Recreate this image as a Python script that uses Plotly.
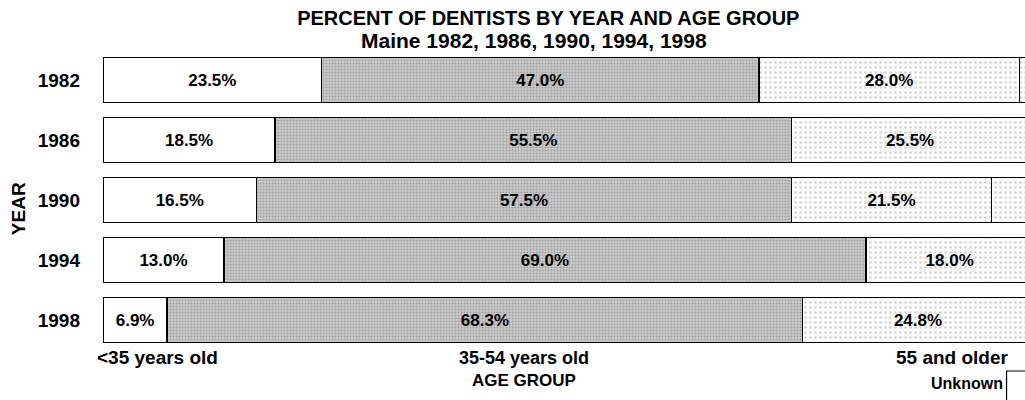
import plotly.graph_objects as go

years = ["1982", "1986", "1990", "1994", "1998"]
under35 = [23.5, 18.5, 16.5, 13.0, 6.9]
mid35_54 = [47.0, 55.5, 57.5, 69.0, 68.3]
over55 = [28.0, 25.5, 21.5, 18.0, 24.8]
unknown = [1.5, 0.5, 4.5, 0.0, 0.0]
group_labels = ["<35 years old", "35-54 years old", "55 and older"]

FONT = "Liberation Sans, Arial, sans-serif"

def f(size):
    return dict(size=size, family=FONT, color="black", weight=700)

fig = go.Figure()

def pct(vals):
    return [f"{v:.1f}%" for v in vals]

fig.add_trace(go.Bar(
    y=years, x=under35, orientation="h", name=group_labels[0],
    marker=dict(color="white", line=dict(color="black", width=1.5)),
    text=pct(under35), textposition="inside", insidetextanchor="middle",
    textfont=f(17), textangle=0,
))
fig.add_trace(go.Bar(
    y=years, x=mid35_54, orientation="h", name=group_labels[1],
    marker=dict(color="#c4c4c4", line=dict(color="black", width=1.5),
                pattern=dict(shape=".", fgcolor="#747474", bgcolor="#cacaca",
                             size=3, solidity=0.35)),
    text=pct(mid35_54), textposition="inside", insidetextanchor="middle",
    textfont=f(17), textangle=0,
))
fig.add_trace(go.Bar(
    y=years, x=over55, orientation="h", name=group_labels[2],
    marker=dict(color="white", line=dict(color="black", width=1.5),
                pattern=dict(shape=".", fgcolor="#a8a8a8", bgcolor="#fcfcfc",
                             size=5, solidity=0.2)),
    text=pct(over55), textposition="inside", insidetextanchor="middle",
    textfont=f(17), textangle=0,
))
fig.add_trace(go.Bar(
    y=years, x=unknown, orientation="h", name="Unknown",
    marker=dict(color="white", line=dict(color="black", width=1.5),
                pattern=dict(shape=".", fgcolor="#a8a8a8", bgcolor="#fcfcfc",
                             size=5, solidity=0.2)),
    text=None,
))

fig.update_layout(
    barmode="stack", bargap=0.25,
    width=1025, height=400,
    margin=dict(l=103, r=0, t=50, b=50),
    paper_bgcolor="white", plot_bgcolor="white",
    showlegend=False,
    font=dict(family=FONT, color="black"),
    xaxis=dict(range=[0, 99.1], showgrid=False, zeroline=False,
               showticklabels=False, showline=False, fixedrange=True),
    yaxis=dict(categoryorder="array", categoryarray=years, autorange="reversed",
               showgrid=False, zeroline=False, showline=False,
               ticks="", ticklabelstandoff=22,
               tickfont=f(19)),
    title=dict(text="PERCENT OF DENTISTS BY YEAR AND AGE GROUP",
               x=0.483, xanchor="center", xref="paper", y=0.955, yanchor="middle",
               font=f(20)),
)

ann = dict(xref="paper", yref="paper", showarrow=False)
fig.add_annotation(text="Maine 1982, 1986, 1990, 1994, 1998", x=0.467, y=1.033,
                   xanchor="center", yanchor="middle", font=f(21), **ann)
fig.add_annotation(text=group_labels[0], x=-0.009, y=-0.025, xanchor="left", yanchor="middle",
                   font=f(19), **ann)
fig.add_annotation(text=group_labels[1], x=0.457, y=-0.025, xanchor="center", yanchor="middle",
                   font=f(18), **ann)
fig.add_annotation(text=group_labels[2], x=0.985, y=-0.025, xanchor="right", yanchor="middle",
                   font=f(19), **ann)
fig.add_annotation(text="AGE GROUP", x=0.457, y=-0.1, xanchor="center", yanchor="middle",
                   font=f(17), **ann)
fig.add_annotation(text="YEAR", x=-0.092, y=0.47, xanchor="center", yanchor="middle",
                   textangle=-90, font=f(19), **ann)
fig.add_annotation(text="Unknown", x=0.978, y=-0.113, xanchor="right", yanchor="middle",
                   font=f(16), **ann)
fig.add_shape(type="rect", xref="paper", yref="paper", x0=0.98, x1=1.02, y0=-0.25, y1=-0.07,
              line=dict(color="black", width=1.2), fillcolor="white")

fig.write_html("out.html")
